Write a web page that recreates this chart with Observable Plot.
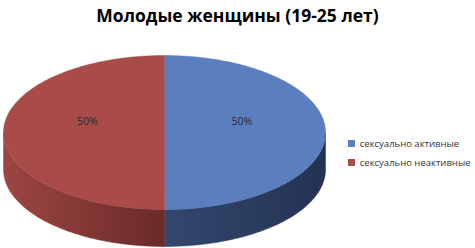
<!DOCTYPE html>
<html>
<head>
<meta charset="utf-8">
<script src="https://cdn.jsdelivr.net/npm/d3@7"></script>
<script src="https://cdn.jsdelivr.net/npm/@observablehq/plot@0.6"></script>
<style>
  body { margin: 0; background: #fff; }
  #wrap { position: relative; width: 475px; height: 248px; overflow: hidden; background: #fff; }
  #chart { position: absolute; left: 0; top: 0; }
  #title { position: absolute; left: 0; top: 3px; width: 475px; text-align: center;
           font: bold 17.5px "Open Sans", sans-serif; color: #000; }
  #legend { position: absolute; left: 348px; top: 137px; }
  div.lg-swatches { font: 9.5px "Open Sans", sans-serif; color: #333; margin: 0; }
  div.lg-swatches-columns .lg-swatch { padding-bottom: 6px; }
</style>
</head>
<body>
<div id="wrap">
  <div id="chart"></div>
  <div id="title"></div>
</div>
<script>
const title = "Молодые женщины (19-25 лет)";
const categories = ["сексуально активные", "сексуально неактивные"];
const values = [50, 50];
const labels = ["50%", "50%"];
const topColors = ["#5b7fbe", "#a94c49"];

// layout (style) constants
const W = 475, H = 248;
const cx = 164, cy = 132, rx = 161, ry = 77, depth = 37;

const arcs = d3.pie().sort(null).startAngle(0).endAngle(2 * Math.PI)(values);
const pt = (a, dy = 0) => ({x: cx + rx * Math.sin(a), y: cy - ry * Math.cos(a) + dy});
const arcPts = (a0, a1, dy = 0) => {
  const n = Math.max(2, Math.ceil(Math.abs(a1 - a0) / 0.02));
  return d3.range(n + 1).map(i => pt(a0 + (a1 - a0) * i / n, dy));
};

const tops = arcs.map((a, i) => [{x: cx, y: cy}, ...arcPts(a.startAngle, a.endAngle)]);
const sides = arcs.map((a, i) => {
  const s = Math.max(a.startAngle, Math.PI / 2), e = Math.min(a.endAngle, 3 * Math.PI / 2);
  if (e <= s) return [];
  return [...arcPts(s, e), ...arcPts(e, s, depth)];
});
const labelData = arcs.map((a, i) => {
  const m = (a.startAngle + a.endAngle) / 2;
  return {x: cx + 0.48 * rx * Math.sin(m), y: cy - 0.48 * ry * Math.cos(m) - 11, label: labels[i]};
});

const marks = [];
sides.forEach((pts, i) => {
  if (pts.length) marks.push(Plot.line(pts, {x: "x", y: "y", fill: `url(#side${i})`, stroke: `url(#side${i})`, strokeWidth: 0.5, curve: "linear-closed"}));
});
tops.forEach((pts, i) => {
  marks.push(Plot.line(pts, {x: "x", y: "y", fill: topColors[i], stroke: topColors[i], strokeWidth: 0.5, curve: "linear-closed"}));
});
marks.push(Plot.text(labelData, {x: "x", y: "y", text: "label", fill: "#262a33", fontSize: 10.5, fontFamily: "Open Sans"}));

const svg = Plot.plot({
  width: W, height: H, margin: 0,
  x: {domain: [0, W], range: [0, W], axis: null},
  y: {domain: [0, H], range: [0, H], axis: null},
  marks
});

const defs = d3.select(svg).insert("defs", ":first-child");
const sideStops = [
  [["0%", "#33486e"], ["100%", "#233253"]],
  [["0%", "#9c4643"], ["100%", "#6a2a28"]]
];
sideStops.forEach((stops, i) => {
  const g = defs.append("linearGradient").attr("id", `side${i}`)
    .attr("x1", 0).attr("x2", 1).attr("y1", 0).attr("y2", 0);
  stops.forEach(([o, c]) => g.append("stop").attr("offset", o).attr("stop-color", c));
});

document.getElementById("chart").appendChild(svg);
document.getElementById("title").textContent = title;

const legend = Plot.legend({
  color: {type: "ordinal", domain: categories, range: topColors},
  columns: 1, swatchSize: 7, className: "lg"
});
legend.id = "legend";
document.getElementById("wrap").appendChild(legend);
</script>
</body>
</html>
